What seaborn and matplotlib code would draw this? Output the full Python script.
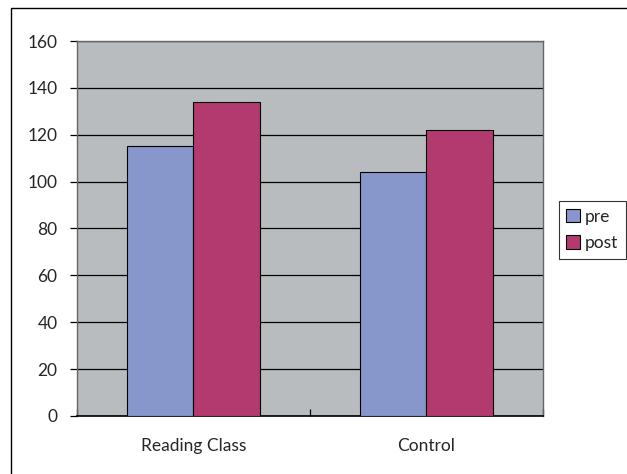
import matplotlib
matplotlib.use("Agg")
import matplotlib.pyplot as plt
from matplotlib.patches import Rectangle
import seaborn as sns
import pandas as pd

groups = ["Reading Class", "Control"]
pre_scores = [115, 104]
post_scores = [134, 122]
series = ["pre", "post"]
y_ticks = [0, 20, 40, 60, 80, 100, 120, 140, 160]

df = pd.DataFrame({
    "group": groups * 2,
    "phase": ["pre"] * len(groups) + ["post"] * len(groups),
    "score": pre_scores + post_scores,
})

sns.set_theme(style="white")
plt.rcParams["font.family"] = ["Lato", "DejaVu Sans"]

fig = plt.figure(figsize=(6.27, 4.74), dpi=100)
ax = fig.add_axes([0.1228, 0.1224, 0.7432, 0.7911])
ax.set_facecolor("#B8BCBE")

palette = {"pre": "#8796CB", "post": "#B23A6E"}
sns.barplot(data=df, x="group", y="score", hue="phase", hue_order=series,
            order=groups, palette=palette, width=0.57, dodge=True,
            edgecolor="black", linewidth=0.8, saturation=1, ax=ax, zorder=3)

ax.set_ylim(0, 160)
ax.set_xlim(-0.5, 1.5)
ax.set_yticks(y_ticks)
ax.yaxis.grid(True, color="black", linewidth=0.9, zorder=1)
ax.set_axisbelow(True)
ax.set_xlabel("")
ax.set_ylabel("")

ax.tick_params(axis="y", length=5, width=0.9, color="black", pad=9,
               labelsize=12.5, left=True, direction="out")
ax.tick_params(axis="x", which="major", length=0, pad=16, labelsize=12.5)
ax.set_xticks([-0.5, 0.5, 1.5], minor=True)
ax.tick_params(axis="x", which="minor", length=5, width=0.9, direction="in",
               color="black", bottom=True)

for side in ["left", "top", "right"]:
    ax.spines[side].set_color("#666666")
    ax.spines[side].set_linewidth(1.0)
    ax.spines[side].set_visible(True)
ax.spines["bottom"].set_color("black")
ax.spines["bottom"].set_linewidth(1.2)

handles, labels = ax.get_legend_handles_labels()
ax.get_legend().remove()
leg = fig.legend(handles, labels, loc="center left",
                 bbox_to_anchor=(0.891, 0.515), frameon=True, fancybox=False,
                 edgecolor="black", fontsize=12.5, handlelength=0.8,
                 handleheight=0.8, handletextpad=0.25, borderpad=0.45,
                 labelspacing=0.6, borderaxespad=0)
leg.get_frame().set_linewidth(0.8)

# outer chart frame
fig.patches.append(Rectangle((11 / 627, -0.05), 1.2, 1 - 8 / 474 + 0.05,
                             transform=fig.transFigure, fill=False,
                             edgecolor="black", linewidth=1.0))

fig.savefig("out.png", dpi=100, facecolor="white")
